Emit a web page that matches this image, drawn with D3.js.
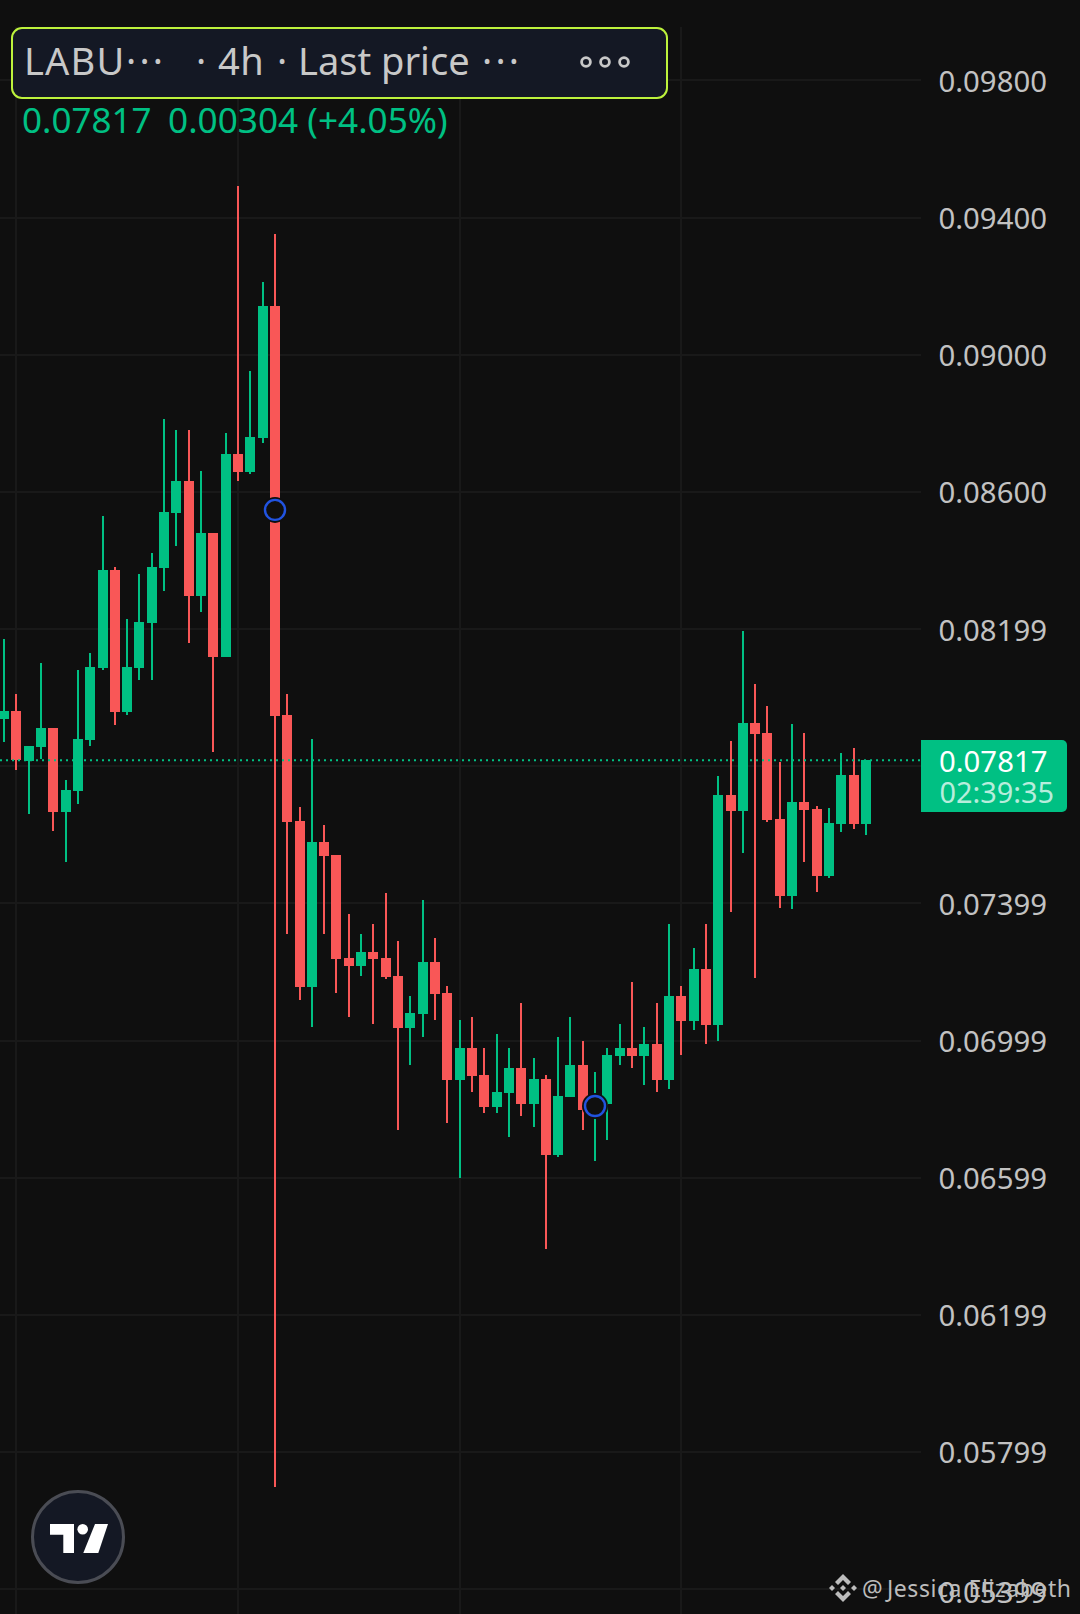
<!DOCTYPE html>
<html>
<head>
<meta charset="utf-8">
<style>
html, body { margin: 0; padding: 0; background: #0f0f0f; }
svg { display: block; }
text { font-family: "Noto Sans", sans-serif; }
</style>
</head>
<body>
<div id="chart-area"></div>
<script src="https://cdn.jsdelivr.net/npm/d3@7"></script>
<script>
// LABU 4h candles, prices
var opens = [0.07937,0.07960,0.07814,0.07855,0.07911,0.07665,0.07727,0.07876,0.08086,0.08372,0.07957,0.08086,0.08217,0.08377,0.08538,0.08631,0.08296,0.08480,0.08118,0.08710,0.08658,0.08757,0.09142,0.07948,0.07639,0.07155,0.07578,0.07540,0.07239,0.07216,0.07257,0.07239,0.07187,0.07035,0.07076,0.07228,0.07137,0.06883,0.06977,0.06898,0.06805,0.06845,0.06918,0.06813,0.06886,0.06665,0.06834,0.06927,0.06796,0.06813,0.06953,0.06977,0.06953,0.06988,0.06883,0.07129,0.07056,0.07207,0.07044,0.07715,0.07668,0.07925,0.07896,0.07645,0.07420,0.07695,0.07674,0.07479,0.07630,0.07773,0.07630];
var highs = [0.08170,0.08010,0.07858,0.08100,0.07911,0.07759,0.08080,0.08129,0.08529,0.08380,0.08229,0.08360,0.08421,0.08812,0.08780,0.08780,0.08660,0.08480,0.08771,0.09492,0.08952,0.09212,0.09352,0.08010,0.07680,0.07878,0.07627,0.07540,0.07368,0.07309,0.07339,0.07429,0.07289,0.07129,0.07409,0.07298,0.07158,0.07058,0.07067,0.06977,0.07018,0.06977,0.07108,0.06948,0.06898,0.07009,0.07067,0.06997,0.06907,0.06977,0.07047,0.07169,0.07038,0.07108,0.07339,0.07158,0.07269,0.07339,0.07770,0.07873,0.08194,0.08039,0.07975,0.07811,0.07922,0.07896,0.07683,0.07677,0.07838,0.07852,0.07817];
var lows = [0.07870,0.07788,0.07660,0.07820,0.07610,0.07520,0.07689,0.07858,0.08080,0.07919,0.07948,0.08051,0.08051,0.08310,0.08442,0.08159,0.08249,0.07841,0.08118,0.08631,0.08652,0.08742,0.05696,0.07309,0.07117,0.07038,0.07309,0.07137,0.07067,0.07187,0.07047,0.07178,0.06738,0.06927,0.07009,0.07058,0.06758,0.06597,0.06848,0.06787,0.06787,0.06717,0.06778,0.06746,0.06390,0.06659,0.06834,0.06738,0.06647,0.06708,0.06927,0.06918,0.06869,0.06848,0.06857,0.06956,0.07029,0.06988,0.06997,0.07374,0.07546,0.07181,0.07636,0.07385,0.07382,0.07520,0.07432,0.07473,0.07607,0.07616,0.07598];
var closes = [0.07960,0.07817,0.07858,0.07911,0.07665,0.07730,0.07878,0.08089,0.08372,0.07957,0.08089,0.08220,0.08380,0.08541,0.08631,0.08296,0.08480,0.08118,0.08710,0.08658,0.08760,0.09142,0.07946,0.07636,0.07155,0.07578,0.07537,0.07236,0.07216,0.07257,0.07236,0.07184,0.07035,0.07079,0.07228,0.07134,0.06883,0.06977,0.06895,0.06805,0.06848,0.06918,0.06813,0.06886,0.06665,0.06837,0.06927,0.06796,0.06813,0.06956,0.06977,0.06953,0.06988,0.06883,0.07129,0.07056,0.07207,0.07044,0.07715,0.07668,0.07925,0.07893,0.07642,0.07420,0.07695,0.07671,0.07479,0.07633,0.07773,0.07630,0.07817];

var gridPrices = [0.09800,0.09400,0.09000,0.08600,0.08199,0.07800,0.07399,0.06999,0.06599,0.06199,0.05799,0.05399];
var tickPrices = [0.09800,0.09400,0.09000,0.08600,0.08199,0.07399,0.06999,0.06599,0.06199,0.05799,0.05399];
var gridIndex = [1,19,37,55];          // candles that sit on a vertical grid line
var markerIndex = [22,48];
var markerPrices = [0.08547,0.06808];

var lastPrice = 0.07817;
var countdown = "02:39:35";
var titleParts = ["LABU", "\u00b7\u00b7\u00b7", "\u00b7", "4h", "\u00b7", "Last price", "\u00b7\u00b7\u00b7"];
var changeText = "0.00304 (+4.05%)";
var watermarkAt = "@";
var watermarkName = "Jessica Elizabeth";

var width = 1080, height = 1614;
var axisX = 921, paneTop = 27;
var green = "#00c083", red = "#f95757", bg = "#0f0f0f", gridColor = "#191919", axisText = "#c2c2c2";

var svg = d3.select("#chart-area").append("svg").attr("width", width).attr("height", height);
svg.append("rect").attr("width", width).attr("height", height).attr("fill", bg);

var x = d3.scaleLinear().domain([0, opens.length - 1]).range([4, 866]);
var y = d3.scaleLinear().domain([0.09800, 0.05399]).range([80.4, 1589]);
var px = function(i) { return Math.round(x(i)); };
var py = function(p) { return Math.round(y(p)); };

// grid
svg.append("g").selectAll("line").data(gridPrices).enter().append("line")
	.attr("x1", 0).attr("x2", axisX)
	.attr("y1", function(d) { return py(d); }).attr("y2", function(d) { return py(d); })
	.attr("stroke", gridColor).attr("stroke-width", 2);
svg.append("g").selectAll("line").data(gridIndex).enter().append("line")
	.attr("x1", function(d) { return px(d); }).attr("x2", function(d) { return px(d); })
	.attr("y1", paneTop).attr("y2", height)
	.attr("stroke", gridColor).attr("stroke-width", 2);

// candles
var candles = svg.append("g").selectAll("g").data(d3.range(opens.length)).enter().append("g")
	.attr("fill", function(i) { return closes[i] >= opens[i] ? green : red; });
candles.append("rect").attr("class", "wick")
	.attr("x", function(i) { return px(i) - 1; }).attr("width", 2)
	.attr("y", function(i) { return py(highs[i]); })
	.attr("height", function(i) { return py(lows[i]) - py(highs[i]); });
candles.append("rect").attr("class", "body")
	.attr("x", function(i) { return px(i) - 5; }).attr("width", 10)
	.attr("y", function(i) { return py(Math.max(opens[i], closes[i])); })
	.attr("height", function(i) { return Math.max(1, py(Math.min(opens[i], closes[i])) - py(Math.max(opens[i], closes[i]))); });

// last price line
svg.append("line").attr("x1", 0).attr("x2", axisX)
	.attr("y1", y(lastPrice)).attr("y2", y(lastPrice))
	.attr("stroke", green).attr("stroke-width", 2).attr("stroke-dasharray", "2,4");

// blue circle markers
var markers = svg.append("g").selectAll("g").data(markerIndex).enter().append("g")
	.attr("transform", function(d, k) { return "translate(" + px(d) + "," + y(markerPrices[k]) + ")"; });
markers.append("circle").attr("r", 13).attr("fill", bg);
markers.append("circle").attr("r", 10).attr("fill", bg).attr("stroke", "#2153e0").attr("stroke-width", 2.4);

// price axis
var yAxis = d3.axisRight(y).tickValues(tickPrices).tickSize(0).tickPadding(17.5).tickFormat(d3.format(".5f"));
var axisGroup = svg.append("g").attr("transform", "translate(" + axisX + ",0)").call(yAxis);
axisGroup.select(".domain").remove();
axisGroup.selectAll("text").attr("fill", axisText).attr("font-size", 29.3).attr("dy", "0.37em").attr("font-family", '"Noto Sans", sans-serif');
// bottom label sits a little low in the picture
axisGroup.selectAll("text").filter(function(d) { return d === 0.05399; }).attr("dy", "0.47em");

// last price tag
svg.append("path").attr("fill", green)
	.attr("d", "M" + axisX + ",740H1062a5,5 0 0 1 5,5V807a5,5 0 0 1 -5,5H" + axisX + "Z");
svg.append("text").attr("x", 939).attr("y", 772).attr("font-size", 29.3).attr("fill", "#ffffff").text(d3.format(".5f")(lastPrice));
svg.append("text").attr("x", 939.5).attr("y", 803).attr("font-size", 28.9).attr("fill", "#ffffff").attr("fill-opacity", 0.72).text(countdown);

// legend box
svg.append("rect").attr("x", 12).attr("y", 28).attr("width", 655).attr("height", 70).attr("rx", 10)
	.attr("fill", "#141824").attr("stroke", "#bdf23c").attr("stroke-width", 2);
var titleX = [24, 126, 196, 218, 277, 298, 482];
var titleSpacing = [1.2, 3.2, 0, 0.4, 0, 0, 3.2];
svg.append("g").selectAll("text").data(titleParts).enter().append("text")
	.attr("x", function(d, i) { return titleX[i]; }).attr("y", 75)
	.attr("letter-spacing", function(d, i) { return titleSpacing[i]; })
	.attr("font-size", 38).attr("fill", "#c8c8c8").text(function(d) { return d; });
svg.append("g").selectAll("circle").data([586, 605, 624]).enter().append("circle")
	.attr("cx", function(d) { return d; }).attr("cy", 62).attr("r", 4.4)
	.attr("fill", "none").attr("stroke", "#c8c8c8").attr("stroke-width", 2.8);

svg.append("text").attr("x", 22).attr("y", 133).attr("font-size", 35).attr("fill", green).text(d3.format(".5f")(lastPrice));
svg.append("text").attr("x", 168).attr("y", 133).attr("font-size", 35.2).attr("fill", green).text(changeText);

// tradingview badge
var badge = svg.append("g").attr("transform", "translate(78,1537)");
badge.append("circle").attr("r", 45.5).attr("fill", "#141824").attr("stroke", "#4a4c54").attr("stroke-width", 3);
var logo = svg.append("g").attr("fill", "#ffffff");
logo.append("path").attr("d", "M50,1524H74V1553H63.3V1534.7H50Z");
logo.append("circle").attr("cx", 82.7).attr("cy", 1529.3).attr("r", 5.3);
logo.append("path").attr("d", "M95,1524H108L98.3,1553H83.3Z");

// watermark
var mark = svg.append("g").attr("transform", "translate(843,1588)").attr("fill", "#bcbcbc");
mark.append("path").attr("d", "M0,-14L8,-6L5,-3L0,-8L-5,-3L-8,-6Z");
mark.append("path").attr("d", "M0,14L8,6L5,3L0,8L-5,3L-8,6Z");
mark.append("path").attr("d", "M-14,0L-11,-3L-8,0L-11,3Z");
mark.append("path").attr("d", "M14,0L11,-3L8,0L11,3Z");
mark.append("path").attr("d", "M0,-3L3,0L0,3L-3,0Z");
svg.append("text").attr("x", 862).attr("y", 1597).attr("font-size", 23).attr("fill", "#bcbcbc").text(watermarkAt);
svg.append("text").attr("x", 887).attr("y", 1597).attr("font-size", 23).attr("letter-spacing", 0.55)
	.attr("fill", "#bcbcbc").text(watermarkName);
</script>
</body>
</html>
